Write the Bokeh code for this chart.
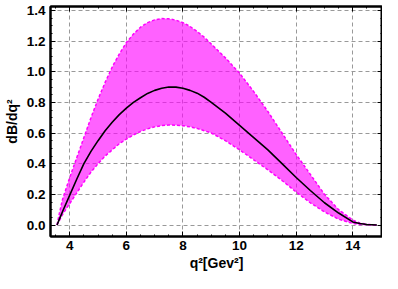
from bokeh.plotting import figure
from bokeh.models import LinearAxis, Range1d, NumeralTickFormatter, FixedTicker, ColumnDataSource
from bokeh.embed import file_html
from bokeh.resources import INLINE

q2 = [3.55, 3.65, 3.75, 4.0, 4.25, 4.5, 4.75, 5.0, 5.25, 5.5, 5.75, 6.0, 6.25, 6.5, 6.75, 7.0,
      7.25, 7.5, 7.75, 8.0, 8.25, 8.5, 8.75, 9.0, 9.5, 10.0, 10.5, 11.0, 11.5, 12.0, 12.5, 13.0,
      13.5, 14.0, 14.25, 14.5, 14.85]
central = [0.0, 0.045, 0.09, 0.195, 0.30, 0.40, 0.48, 0.55, 0.615, 0.67, 0.72, 0.762, 0.80, 0.83,
           0.858, 0.878, 0.892, 0.90, 0.899, 0.892, 0.878, 0.86, 0.833, 0.80, 0.73, 0.65, 0.57,
           0.49, 0.40, 0.31, 0.225, 0.145, 0.078, 0.02, 0.01, 0.003, 0.0]
upper = [0.0, 0.09, 0.17, 0.31, 0.44, 0.57, 0.70, 0.82, 0.93, 1.03, 1.115, 1.19, 1.245, 1.29,
         1.32, 1.338, 1.346, 1.345, 1.336, 1.32, 1.295, 1.262, 1.225, 1.18, 1.09, 0.99, 0.87,
         0.74, 0.60, 0.46, 0.33, 0.20, 0.10, 0.032, 0.013, 0.004, 0.0]
lower = [0.0, 0.035, 0.07, 0.14, 0.21, 0.28, 0.345, 0.40, 0.45, 0.49, 0.53, 0.56, 0.587, 0.61,
         0.627, 0.64, 0.648, 0.652, 0.651, 0.647, 0.64, 0.63, 0.615, 0.60, 0.55, 0.49, 0.425,
         0.36, 0.29, 0.215, 0.145, 0.085, 0.038, 0.01, 0.004, 0.001, 0.0]
x_ticks = [4, 6, 8, 10, 12, 14]
y_ticks = [0.0, 0.2, 0.4, 0.6, 0.8, 1.0, 1.2, 1.4]

src = ColumnDataSource(dict(x=q2, c=central, u=upper, l=lower))

FONT = "Liberation Sans"

p = figure(width=382, height=273, output_backend="svg", toolbar_location=None,
           x_range=Range1d(3.32, 15.05), y_range=Range1d(-0.075, 1.425),
           min_border_left=38, min_border_right=0, min_border_top=6, min_border_bottom=0)
p.background_fill_color = "white"
p.border_fill_color = "white"
p.outline_line_color = "black"
p.outline_line_width = 2

p.varea(x="x", y1="l", y2="u", source=src, fill_color="#FF00FF", fill_alpha=0.62)
p.line(x="x", y="u", source=src, line_color="#FF00FF", line_width=1.5, line_dash="3 2")
p.line(x="x", y="l", source=src, line_color="#FF00FF", line_width=1.5, line_dash="3 2")
p.line(x="x", y="c", source=src, line_color="black", line_width=1.6)

for g in (p.xgrid[0], p.ygrid[0]):
    g.grid_line_color = "#999999"
    g.grid_line_dash = "4 3"
    g.grid_line_width = 1

x_minor = [x / 2.0 for x in range(7, 31) if x % 4 != 0]
y_minor = [i * 0.05 for i in range(0, 29)]
p.xaxis.ticker = FixedTicker(ticks=x_ticks, minor_ticks=x_minor)
p.yaxis.ticker = FixedTicker(ticks=y_ticks, minor_ticks=y_minor)
p.yaxis.formatter = NumeralTickFormatter(format="0.0")

for ax in (p.xaxis[0], p.yaxis[0]):
    ax.axis_line_color = "black"
    ax.axis_line_width = 2
    ax.major_tick_in = 5
    ax.major_tick_out = 0
    ax.minor_tick_in = 2
    ax.minor_tick_out = 0
    ax.major_label_text_font = FONT
    ax.major_label_text_font_style = "bold"
    ax.major_label_text_font_size = "13.5px"
    ax.major_label_text_color = "black"
    ax.axis_label_text_font = FONT
    ax.axis_label_text_font_style = "bold"
    ax.axis_label_text_font_size = "14px"
    ax.axis_label_text_color = "black"

p.xaxis.axis_label = "q²[Gev²]"
p.yaxis.axis_label = "dB/dq²"
p.xaxis.major_label_standoff = 4
p.yaxis.major_label_standoff = 5
p.xaxis.axis_label_standoff = 2
p.yaxis.axis_label_standoff = 4

# ticks on top and right edges (labels left empty)
top = LinearAxis(ticker=FixedTicker(ticks=x_ticks, minor_ticks=x_minor),
                 major_label_overrides={t: "" for t in x_ticks}, major_tick_in=5, major_tick_out=0,
                 minor_tick_in=2, minor_tick_out=0, axis_line_color="black", axis_line_width=2,
                 major_label_standoff=0)
right = LinearAxis(ticker=FixedTicker(ticks=y_ticks, minor_ticks=y_minor),
                   major_label_overrides={t: "" for t in y_ticks}, major_tick_in=5, major_tick_out=0,
                   minor_tick_in=2, minor_tick_out=0, axis_line_color="black", axis_line_width=2,
                   major_label_standoff=0)
p.add_layout(top, "above")
p.add_layout(right, "right")

open("out.html", "w").write(file_html(p, INLINE))
